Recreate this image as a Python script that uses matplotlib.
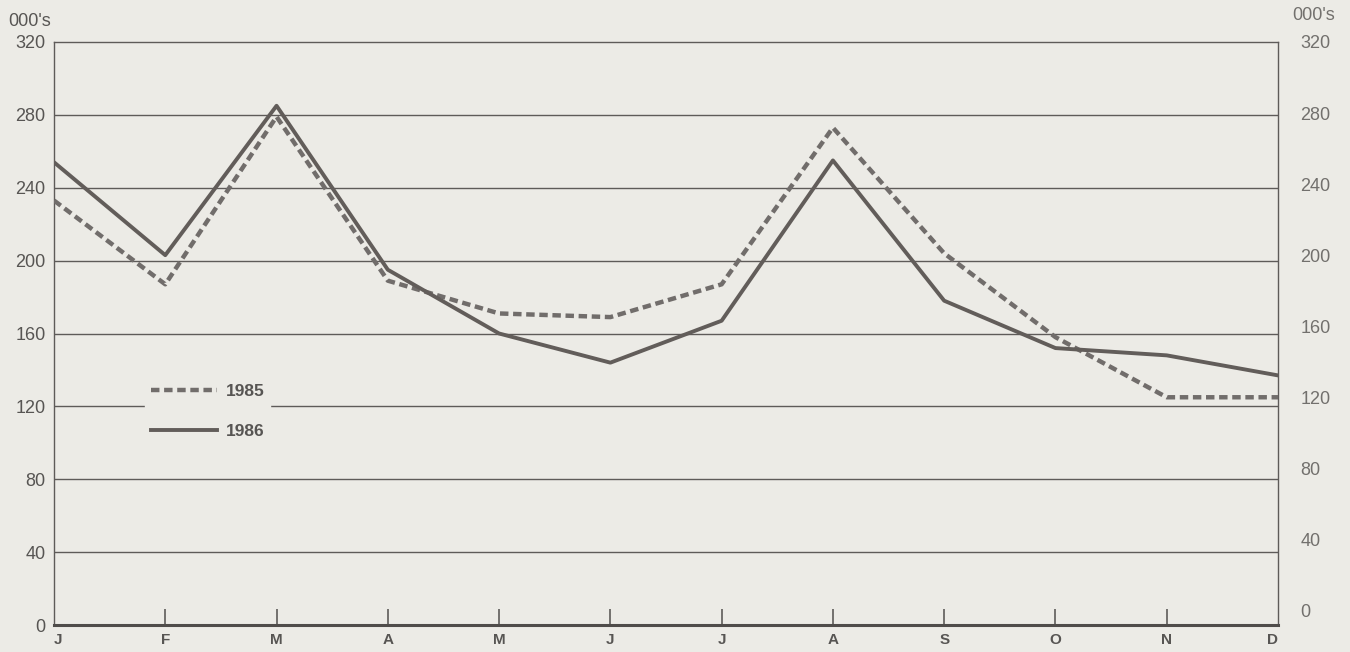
import matplotlib
matplotlib.use("Agg")
import matplotlib.pyplot as plt
from matplotlib.lines import Line2D

months = ["J", "F", "M", "A", "M", "J", "J", "A", "S", "O", "N", "D"]
values_1985 = [233, 187, 279, 189, 171, 169, 187, 273, 204, 158, 125, 125]
values_1986 = [254, 203, 285, 195, 160, 144, 167, 255, 178, 152, 148, 137]
y_ticks = [0, 40, 80, 120, 160, 200, 240, 280, 320]
series_names = ["1985", "1986"]

BG = "#ecebe6"
LINE = "#625d5a"
DASH = "#716d6b"
GRID = "#5e5b59"
TXT = "#575553"
TXT_R = "#72706d"

plt.rcParams['font.family'] = ['Liberation Sans', 'DejaVu Sans']

fig = plt.figure(figsize=(13.5, 6.52), dpi=100, facecolor=BG)
ax = fig.add_axes([54/1350, 1-625/652, 1224/1350, 583/652])
ax.set_facecolor(BG)

dash_style = (0, (1.9, 1.05))
x = list(range(len(months)))
ax.plot(x, values_1985, color=DASH, lw=3.2, ls=dash_style, label=series_names[0], zorder=3)
ax.plot(x, values_1986, color=LINE, lw=2.8, ls='-', label=series_names[1], zorder=4)

ax.set_xlim(0, len(months) - 1)
ax.set_ylim(0, 320)

for v in y_ticks[1:-1]:
    ax.axhline(v, color=GRID, lw=1.0, zorder=1)

for s in ["left", "right", "top"]:
    ax.spines[s].set_color(GRID)
    ax.spines[s].set_linewidth(1.0)
ax.spines["bottom"].set_color("#4f4c4a")
ax.spines["bottom"].set_linewidth(2.2)

# month ticks pointing upward
for i in range(1, len(months) - 1):
    ax.plot([i, i], [0, 9], color=GRID, lw=1.2, zorder=2, solid_capstyle='butt')

ax.set_xticks(x)
ax.set_xticklabels(months, fontsize=11, fontweight='bold', color=TXT)
ax.tick_params(axis='x', length=0, pad=6)
lbls = ax.get_xticklabels()
lbls[0].set_ha('left')
lbls[-1].set_ha('right')

ax.set_yticks(y_ticks)
ax.set_yticklabels([str(v) for v in y_ticks], fontsize=13, color=TXT)
ax.tick_params(axis='y', length=0, pad=6)

ax2 = ax.twinx()
ax2.set_ylim(-8.45, 320)
ax2.set_yticks(y_ticks)
ax2.set_yticklabels([str(v) for v in y_ticks], fontsize=13, color=TXT_R)
ax2.tick_params(axis='y', length=0, pad=16)
for s in ax2.spines.values():
    s.set_visible(False)

fig.text(8/1350, 1-22/652, "000's", fontsize=13, color=TXT, va='center', ha='left')
fig.text(1292/1350, 1-15/652, "000's", fontsize=13, color=TXT_R, va='center', ha='left')

handles = [Line2D([0], [0], color=DASH, lw=3.2, ls=dash_style),
           Line2D([0], [0], color=LINE, lw=2.8)]
leg = ax.legend(handles, series_names, loc='center left', bbox_to_anchor=(0.074, 0.366),
                frameon=True, facecolor=BG, edgecolor=BG, framealpha=1.0,
                handlelength=3.85, handletextpad=0.46, labelspacing=1.4,
                borderpad=0.35, borderaxespad=0, fontsize=12.5)
for t in leg.get_texts():
    t.set_fontweight('bold')
    t.set_color(TXT)
leg.set_zorder(5)

fig.savefig("out.png", dpi=100, facecolor=BG)
